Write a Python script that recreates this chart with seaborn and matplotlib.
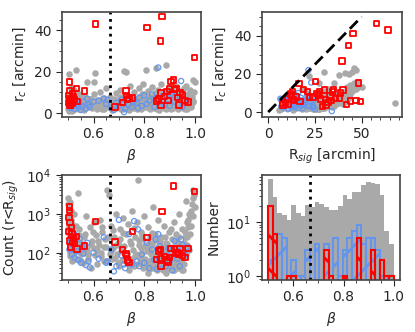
import pandas as pd
import seaborn as sns
import matplotlib
matplotlib.use("Agg")
import matplotlib.pyplot as plt
from matplotlib.ticker import AutoMinorLocator

# ---- gray sample (all sources) ----
gray_beta = [0.500, 0.501, 0.502, 0.503, 0.504, 0.505, 0.506, 0.507, 0.508, 0.509,
             0.510, 0.511, 0.512, 0.513, 0.514, 0.515, 0.516, 0.518, 0.520, 0.522,
             0.525, 0.528, 0.530, 0.533, 0.536, 0.540, 0.543, 0.546, 0.548, 0.550,
             0.555, 0.560, 0.565, 0.570, 0.575, 0.580, 0.585, 0.590, 0.595, 0.600,
             0.603, 0.607, 0.610, 0.615, 0.620, 0.625, 0.630, 0.635, 0.640, 0.645,
             0.650, 0.655, 0.660, 0.663,
             0.670, 0.675, 0.680, 0.685, 0.690, 0.695, 0.700, 0.705, 0.710, 0.715,
             0.720, 0.723, 0.727, 0.730, 0.735, 0.740, 0.743, 0.746, 0.750, 0.755,
             0.758, 0.762,
             0.765, 0.770, 0.775, 0.780, 0.783, 0.786, 0.790, 0.793, 0.796, 0.800,
             0.803, 0.806, 0.810, 0.813, 0.816, 0.820, 0.823, 0.826, 0.830, 0.833,
             0.836, 0.840, 0.843, 0.846, 0.850, 0.852, 0.855, 0.858, 0.861, 0.864,
             0.867, 0.870, 0.873, 0.876, 0.879, 0.882, 0.885, 0.887, 0.890, 0.893,
             0.896, 0.899, 0.902, 0.905, 0.908, 0.911, 0.914, 0.917, 0.920, 0.923,
             0.926, 0.929, 0.932, 0.935, 0.938, 0.941, 0.944, 0.947, 0.950, 0.953,
             0.956, 0.959, 0.962, 0.965, 0.968,
             0.972, 0.975, 0.978, 0.981, 0.984, 0.987, 0.990, 0.993, 0.996, 0.998]
gray_rc = [2.0, 4.0, 6.0, 8.0, 19.0, 3.0, 5.0, 7.0, 9.0, 1.5,
           12.0, 4.5, 2.5, 6.5, 3.5, 10.0, 5.5, 2.0, 8.5, 4.0,
           11.0, 3.0, 21.0, 6.0, 2.5, 5.0, 9.0, 3.5, 7.0, 4.0,
           6.0, 2.0, 8.0, 4.0, 15.0, 3.0, 7.0, 5.0, 2.5, 15.0,
           9.0, 19.5, 4.5, 6.5, 3.0, 10.0, 5.5, 2.0, 7.5, 4.0,
           12.0, 6.0, 3.5, 8.0,
           5.0, 2.5, 7.0, 4.0, 9.5, 3.0, 6.0, 11.0, 4.5, 2.0,
           20.5, 7.5, 20.0, 5.0, 3.0, 8.5, 13.0, 4.0, 6.5, 2.5,
           10.0, 5.5,
           3.5, 7.0, 4.5, 12.0, 6.0, 2.0, 9.0, 5.0, 14.0, 3.5,
           7.5, 21.0, 4.0, 10.5, 6.0, 2.5, 8.0, 5.0, 12.5, 3.0,
           7.0, 4.5, 9.5, 22.0, 6.0, 2.0, 11.0, 5.5, 3.5, 8.5,
           14.0, 4.0, 7.0, 2.5, 10.0, 5.0, 23.0, 6.5, 3.0, 9.0,
           4.5, 12.0, 7.5, 2.0, 5.5, 11.0, 3.5, 8.0, 6.0, 13.0,
           4.0, 9.5, 2.5, 7.0, 5.0, 10.5, 3.0, 8.0, 6.0, 4.5,
           12.0, 2.0, 7.0, 13.0, 5.0,
           9.0, 3.5, 6.5, 11.0, 4.0, 8.0, 16.0, 5.5, 10.0, 15.0]
gray_rsig = [8, 10, 12, 14, 22, 9, 11, 13, 15, 7,
             18, 16, 20, 17, 19, 21, 23, 25, 24, 26,
             28, 14, 30, 27, 22, 32, 29, 18, 33, 20,
             26, 15, 31, 24, 35, 19, 28, 22, 34, 27,
             36, 38, 25, 30, 21, 33, 37, 17, 29, 40,
             32, 26, 23, 35,
             28, 20, 34, 31, 39, 25, 37, 30, 27, 22,
             41, 36, 43, 33, 24, 38, 42, 29, 35, 26,
             40, 31,
             28, 36, 32, 44, 30, 23, 39, 34, 46, 27,
             37, 45, 29, 41, 33, 25, 38, 31, 43, 26,
             35, 30, 40, 47, 34, 21, 42, 36, 28, 39,
             44, 32, 37, 24, 41, 33, 46, 38, 29, 40,
             35, 43, 36, 27, 34, 45, 31, 39, 37, 48,
             30, 42, 26, 38, 33, 44, 28, 36, 40, 32,
             47, 25, 35, 50, 68,
             41, 29, 37, 45, 31, 39, 48, 34, 43, 46]
gray_count = [2500, 1800, 900, 600, 400, 300, 200, 150, 100, 80,
              1200, 700, 450, 250, 120, 60, 90, 170, 350, 1000,
              130, 75, 500, 200, 110, 3500, 280, 65, 160, 95,
              150, 55, 300, 900, 120, 70, 450, 40, 200, 600,
              130, 85, 280, 50, 160, 700, 100, 350, 60, 220,
              140, 4000, 3000, 90,
              500, 130, 250, 75, 1000, 180, 45, 400, 110, 800,
              150, 60, 300, 90, 550, 35, 200, 70, 1200, 120,
              45, 260,
              80, 600, 7500, 160, 55, 350, 100, 40, 230, 900,
              70, 140, 50, 450, 30, 180, 120, 65, 320, 40,
              1500, 85, 210, 55, 130, 35, 700, 75, 160, 45,
              250, 60, 110, 40, 500, 90, 30, 180, 70, 140,
              50, 350, 100, 45, 230, 80, 35, 600, 120, 60,
              300, 40, 180, 90, 1000, 55, 150, 70, 400, 35,
              110, 250, 80, 2200, 160,
              700, 120, 1000, 300, 500, 1800, 4000, 900, 3000, 1500]

# second batch of gray sources (the dense low-r_c band)
gray2_beta = [0.502, 0.504, 0.506, 0.508, 0.511, 0.513, 0.517, 0.521, 0.524, 0.527,
              0.531, 0.538, 0.542, 0.547, 0.552, 0.558, 0.563, 0.568, 0.578, 0.590,
              0.598, 0.612, 0.618, 0.628, 0.633, 0.643, 0.648, 0.658, 0.668, 0.672,
              0.678, 0.688, 0.693, 0.698, 0.703,
              0.708, 0.713, 0.718, 0.732, 0.738, 0.748, 0.752, 0.760, 0.767, 0.772,
              0.778, 0.782, 0.788, 0.792, 0.798, 0.801, 0.808, 0.811, 0.818, 0.821,
              0.825, 0.828, 0.832, 0.838, 0.842, 0.848, 0.853, 0.857, 0.862, 0.868,
              0.872, 0.875, 0.878, 0.883, 0.886, 0.889, 0.892, 0.897, 0.901, 0.904,
              0.907, 0.912, 0.916, 0.919, 0.922,
              0.925, 0.928, 0.931, 0.934, 0.937, 0.940, 0.943, 0.946, 0.949, 0.952,
              0.955, 0.958, 0.961, 0.964, 0.967, 0.970, 0.974, 0.980, 0.986, 0.992]
gray2_rc = [1.0, 3.0, 5.5, 7.5, 2.0, 9.0, 1.2, 3.8, 6.0, 1.8,
            4.5, 7.0, 2.2, 5.0, 3.0, 8.0, 1.5, 5.8, 3.5, 7.0,
            4.0, 1.8, 5.0, 3.0, 7.0, 2.0, 5.5, 3.0, 6.5, 1.5,
            4.0, 2.5, 6.0, 3.5, 8.0,
            2.0, 5.0, 3.5, 6.0, 1.5, 4.5, 7.5, 3.0, 5.5, 2.0,
            8.0, 4.0, 6.5, 2.5, 9.0, 4.5, 3.0, 7.0, 5.0, 1.8,
            6.5, 3.5, 8.5, 2.5, 5.5, 4.0, 7.0, 1.5, 5.0, 9.0,
            3.0, 6.0, 4.0, 8.0, 2.0, 5.5, 7.0, 3.0, 6.0, 4.5,
            9.0, 2.5, 5.0, 7.5, 3.5,
            6.0, 4.0, 8.5, 2.0, 5.5, 3.0, 7.0, 4.5, 9.5, 2.5,
            6.0, 3.5, 8.0, 4.0, 6.5, 2.0, 5.0, 7.5, 3.0, 6.0]
gray2_rsig = [6, 8, 9, 10, 12, 11, 13, 15, 16, 18,
              19, 21, 23, 24, 26, 28, 20, 22, 25, 27,
              30, 24, 28, 31, 26, 29, 33, 27, 30, 25,
              32, 28, 35, 30, 34,
              27, 31, 29, 34, 26, 32, 36, 28, 33, 30,
              37, 31, 35, 29, 38, 33, 30, 36, 34, 27,
              37, 32, 40, 29, 35, 33, 38, 27, 34, 41,
              31, 37, 30, 40, 28, 36, 39, 32, 38, 35,
              43, 30, 36, 41, 33,
              39, 34, 42, 29, 37, 32, 40, 35, 44, 31,
              38, 33, 42, 36, 40, 30, 38, 43, 35, 41]
gray2_count = [450, 1000, 160, 2000, 380, 130, 550, 85, 230, 150,
               70, 120, 400, 190, 60, 100, 260, 130, 85, 160,
               350, 120, 200, 80, 450, 140, 60, 250, 110, 70,
               380, 160, 90, 55, 230,
               140, 65, 320, 100, 48, 170, 60, 420, 95, 50,
               210, 75, 130, 280, 42, 160, 60, 110, 38, 250,
               90, 45, 170, 60, 300, 50, 110, 40, 200, 65,
               130, 35, 90, 250, 55, 170, 40, 100, 60, 400,
               45, 140, 70, 35, 200,
               55, 120, 45, 80, 250, 40, 150, 65, 35, 110,
               180, 50, 350, 90, 600, 250, 450, 900, 1200, 2500]

# ---- blue sample ----
blue_beta = [0.855, 0.945, 0.720, 0.505, 0.510, 0.515, 0.520, 0.525, 0.530, 0.535,
             0.540, 0.545, 0.550, 0.555, 0.560, 0.570, 0.575, 0.580, 0.585, 0.600,
             0.620, 0.640, 0.650, 0.670, 0.690, 0.700, 0.710, 0.725, 0.740, 0.750,
             0.760, 0.770, 0.780, 0.790, 0.800, 0.810, 0.820, 0.830, 0.840, 0.850,
             0.860, 0.870, 0.880, 0.885, 0.895, 0.900, 0.910, 0.920, 0.930, 0.935,
             0.940, 0.950, 0.960, 0.970, 0.525, 0.680, 0.655, 0.775, 0.845, 0.905]
blue_rc = [22.0, 15.5, 0.5, 3.0, 2.5, 4.0, 5.0, 2.0, 3.5, 6.0,
           2.8, 4.5, 1.5, 3.2, 5.5, 2.2, 7.0, 4.0, 3.0, 5.5,
           6.0, 7.0, 4.5, 2.5, 5.0, 3.5, 6.5, 2.0, 4.0, 3.0,
           6.0, 5.0, 7.5, 3.5, 8.5, 4.5, 6.0, 9.0, 3.0, 7.0,
           5.0, 8.0, 4.0, 10.0, 6.5, 3.5, 9.5, 5.5, 7.5, 4.0,
           8.0, 3.0, 6.0, 5.0, 7.0, 1.5, 6.5, 2.5, 6.0, 8.5]
blue_rsig = [21.5, 23.0, 34.0, 7.0, 8.0, 9.0, 10.0, 11.0, 12.0, 9.5,
             13.0, 14.0, 10.5, 15.0, 12.5, 16.0, 8.5, 17.0, 11.5, 13.5,
             18.0, 15.5, 19.0, 24.0, 14.5, 12.0, 20.0, 18.5, 16.5, 22.0,
             9.0, 13.0, 17.5, 21.0, 15.0, 11.0, 19.5, 14.0, 24.0, 10.0,
             17.0, 20.5, 12.5, 16.0, 7.0, 18.0, 13.5, 22.5, 15.5, 19.0,
             11.5, 14.5, 24.0, 10.5, 6.5, 25.0, 13.0, 14.0, 18.0, 21.5]
blue_count = [300, 220, 50, 120, 200, 90, 160, 75, 250, 110,
              65, 230, 55, 140, 95, 48, 180, 60, 42, 100,
              70, 250, 55, 120, 45, 700, 85, 40, 300, 50,
              650, 60, 45, 90, 55, 180, 40, 120, 65, 38,
              150, 50, 85, 45, 130, 60, 35, 200, 70, 110,
              45, 160, 90, 140, 300, 33, 60, 400, 220, 100]

# ---- red sample ----
red_beta = [0.607, 0.870, 0.810, 0.865, 0.997, 0.915, 0.905, 0.505, 0.505, 0.532,
            0.565, 0.503, 0.508, 0.512, 0.503, 0.515, 0.520, 0.507, 0.525, 0.510,
            0.535, 0.518, 0.684, 0.728, 0.730, 0.735, 0.740, 0.754, 0.920, 0.925,
            0.866, 0.847, 0.866, 0.894, 0.940, 0.937, 0.972, 0.900, 0.855, 0.880,
            0.930, 0.715, 0.950, 0.960, 0.890]
red_rc = [43.0, 46.5, 41.3, 34.8, 26.7, 16.0, 15.2, 15.0, 10.8, 11.9,
          10.7, 8.5, 7.0, 6.0, 5.0, 4.5, 8.0, 4.0, 6.5, 3.8,
          5.5, 9.5, 3.0, 10.7, 8.5, 6.5, 7.0, 7.3, 11.5, 12.0,
          9.7, 5.8, 3.8, 6.2, 10.0, 4.0, 5.4, 11.6, 6.8, 8.0,
          7.5, 5.0, 9.0, 6.0, 10.5]
red_rsig = [64.0, 58.0, 45.4, 42.8, 39.4, 25.2, 48.3, 16.5, 13.0, 19.0,
            21.0, 12.5, 10.5, 14.0, 9.3, 7.5, 15.0, 11.0, 13.5, 8.0,
            17.0, 12.0, 29.0, 27.5, 33.0, 30.5, 36.0, 38.0, 40.0, 35.0,
            26.0, 44.0, 31.0, 47.0, 38.5, 42.0, 49.5, 30.0, 28.0, 24.0,
            22.0, 32.0, 27.0, 33.5, 34.5]
red_count = [630, 1150, 250, 120, 3700, 5200, 130, 1500, 1200, 260,
             150, 800, 600, 450, 350, 300, 250, 200, 170, 140,
             125, 180, 190, 97, 84, 65, 56, 350, 130, 95,
             70, 68, 45, 58, 130, 90, 130, 75, 110, 80,
             100, 120, 85, 75, 65]

# ---- beta histograms (27 bins over 0.5-1.0) ----
n_bins = 27
gray_hist = [62, 29, 15, 13.5, 11, 21, 15, 13, 21, 19, 24, 22, 19, 17, 17, 20, 32,
             27, 36, 36, 48, 56, 54, 51, 32, 7, 4]
blue_hist = [2, 6, 6, 5, 0, 2, 1, 1, 3, 0, 4, 0, 4, 0, 5, 1, 3, 5, 7, 9, 4, 5, 5,
             3, 1, 1, 0]
red_hist = [20, 6, 0, 0, 1, 1, 0, 0, 0, 0, 0, 0, 3, 1, 0, 0, 1, 0, 0, 5, 0, 0, 3,
            0, 2, 1, 1]

beta_split = 2 / 3
one_to_one = [0, 50]

gray = pd.concat([
    pd.DataFrame({"beta": gray_beta, "rc": gray_rc, "rsig": gray_rsig, "count": gray_count}),
    pd.DataFrame({"beta": gray2_beta, "rc": gray2_rc, "rsig": gray2_rsig, "count": gray2_count}),
], ignore_index=True)
blue = pd.DataFrame({"beta": blue_beta, "rc": blue_rc, "rsig": blue_rsig, "count": blue_count})
red = pd.DataFrame({"beta": red_beta, "rc": red_rc, "rsig": red_rsig, "count": red_count})

width = 0.5 / n_bins
hist = pd.DataFrame({
    "center": [0.5 + width * (i + 0.5) for i in range(n_bins)],
    "gray": gray_hist, "blue": blue_hist, "red": red_hist,
})

sns.set_style("ticks")
plt.rcParams["font.family"] = ["DejaVu Sans"]
plt.rcParams["font.size"] = 10
plt.rcParams["hatch.linewidth"] = 2.0

fig = plt.figure(figsize=(4.15, 3.32), dpi=100)
ax1 = fig.add_axes([0.149, 0.648, 0.335, 0.316])
ax2 = fig.add_axes([0.631, 0.648, 0.337, 0.316])
ax3 = fig.add_axes([0.149, 0.157, 0.335, 0.316])
ax4 = fig.add_axes([0.631, 0.157, 0.333, 0.316])

gkw = dict(color="darkgray", s=22, linewidth=0, legend=False)
bkw = dict(fc="none", ec="cornflowerblue", s=14, linewidth=0.9, legend=False)
rkw = dict(marker="s", fc="none", ec="red", s=15, linewidth=1.3, legend=False)


def three_layers(ax, x, y):
    sns.scatterplot(data=gray, x=x, y=y, ax=ax, **gkw)
    sns.scatterplot(data=blue, x=x, y=y, ax=ax, **bkw)
    sns.scatterplot(data=red, x=x, y=y, ax=ax, **rkw)


# top left: core radius vs beta
three_layers(ax1, "beta", "rc")
ax1.axvline(beta_split, color="k", ls=":", lw=2)
ax1.set_ylabel("r$_c$ [arcmin]")
ax1.set_xlabel(r"$\beta$")

# top right: core radius vs signal radius
three_layers(ax2, "rsig", "rc")
sns.lineplot(x=one_to_one, y=one_to_one, ax=ax2, color="k", lw=2, ls=(0, (4, 2)))
ax2.set_xlabel("R$_{sig}$ [arcmin]")
ax2.set_ylabel("r$_c$ [arcmin]")
ax2.set_xticks([0, 25, 50])

# bottom left: counts vs beta
three_layers(ax3, "beta", "count")
ax3.set_yscale("log")
ax3.set_ylim(20, 1e4)
ax3.axvline(beta_split, color="k", ls=":", lw=2)
ax3.set_ylabel("Count (r<R$_{sig}$)")
ax3.set_xlabel(r"$\beta$")

# bottom right: beta histograms
hkw = dict(data=hist, x="center", binwidth=width, binrange=(0.5, 1.0), ax=ax4)
sns.histplot(weights="gray", color="darkgray", alpha=1, linewidth=0, **hkw)
sns.histplot(weights="blue", color="cornflowerblue", fill=False, hatch="/",
             linewidth=1.5, **hkw)
sns.histplot(weights="red", color="red", fill=False, hatch="\\", linewidth=1.5, **hkw)
ax4.set_yscale("log")
ax4.set_ylim(0.85, 75)
ax4.axvline(beta_split, color="k", ls=":", lw=2)
ax4.set_ylabel("Number")
ax4.set_xlabel(r"$\beta$")

for ax in (ax1, ax3, ax4):
    ax.set_xticks([0.6, 0.8, 1.0])
for ax in (ax1, ax2, ax3, ax4):
    ax.xaxis.set_minor_locator(AutoMinorLocator())
    if ax not in (ax3, ax4):
        ax.yaxis.set_minor_locator(AutoMinorLocator())
    ax.tick_params(which="major", length=4)
    ax.tick_params(which="minor", length=2)
    for sp in ax.spines.values():
        sp.set_color("#444444")
        sp.set_linewidth(1.2)

fig.savefig("out.png", dpi=100)
